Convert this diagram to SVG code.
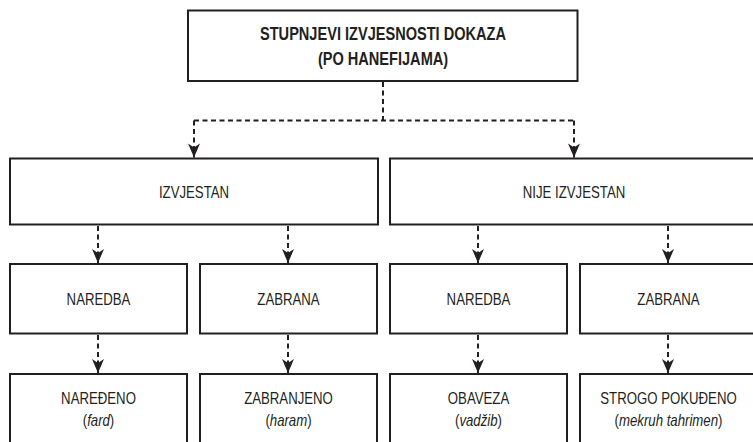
<svg xmlns="http://www.w3.org/2000/svg" width="753" height="442" viewBox="0 0 753 442">
<style>
.box{fill:#fff;stroke:#231f20;stroke-width:2}
.t{font-family:"Liberation Sans",Arial,sans-serif;font-size:16.5px;fill:#231f20;text-anchor:middle}
.tb{font-family:"Liberation Sans",Arial,sans-serif;font-size:18px;font-weight:bold;fill:#231f20;text-anchor:middle}
.i{font-style:italic}
.c{fill:none;stroke:#231f20;stroke-width:2;stroke-dasharray:5 3.5}
.a{fill:none;stroke:#231f20;stroke-width:2;stroke-dasharray:5 3.5;marker-end:url(#ah)}
</style>
<defs>
<marker id="ah" markerUnits="userSpaceOnUse" markerWidth="16" markerHeight="14" viewBox="-15 -7 16 14" refX="0" refY="0" orient="auto">
<path d="M0,0 L-14,-6 L-10,0 L-14,6 Z" fill="#231f20"/>
</marker>
</defs>
<rect width="753" height="442" fill="#fff"/>
<g id="connectors">
<path class="c" d="M383,82 V120.5"/>
<path class="c" d="M194,120.5 H574"/>
<path class="a" d="M194,120.5 V157.5"/>
<path class="a" d="M574,120.5 V157.5"/>
<path class="a" d="M98,226 V263"/>
<path class="a" d="M288,226 V263"/>
<path class="a" d="M478,226 V263"/>
<path class="a" d="M668,226 V263"/>
<path class="a" d="M98,335 V373"/>
<path class="a" d="M288,335 V373"/>
<path class="a" d="M478,335 V373"/>
<path class="a" d="M668,335 V373"/>
</g>
<g id="root">
<rect class="box" x="188" y="10.5" width="389.5" height="70.5"/>
<text class="tb" transform="translate(383,40) scale(0.81,1)">STUPNJEVI IZVJESNOSTI DOKAZA</text>
<text class="tb" transform="translate(383,65) scale(0.81,1)">(PO HANEFIJAMA)</text>
</g>
<g id="izvjestan">
<rect class="box" x="10" y="158.5" width="368" height="66"/>
<text class="t" transform="translate(194,197.5) scale(0.8,1)">IZVJESTAN</text>
</g>
<g id="nije-izvjestan">
<rect class="box" x="390" y="158.5" width="370" height="66"/>
<text class="t" transform="translate(574,197.5) scale(0.8,1)">NIJE IZVJESTAN</text>
</g>
<g id="naredba1">
<rect class="box" x="10" y="264" width="177" height="69.5"/>
<text class="t" transform="translate(98.5,304.5) scale(0.8,1)">NAREDBA</text>
</g>
<g id="zabrana1">
<rect class="box" x="200" y="264" width="177" height="69.5"/>
<text class="t" transform="translate(288.5,304.5) scale(0.8,1)">ZABRANA</text>
</g>
<g id="naredba2">
<rect class="box" x="390" y="264" width="177" height="69.5"/>
<text class="t" transform="translate(478.5,304.5) scale(0.8,1)">NAREDBA</text>
</g>
<g id="zabrana2">
<rect class="box" x="580" y="264" width="180" height="69.5"/>
<text class="t" transform="translate(668.5,304.5) scale(0.8,1)">ZABRANA</text>
</g>
<g id="naredjeno">
<rect class="box" x="10" y="374" width="177" height="80"/>
<text class="t" transform="translate(98.5,404) scale(0.8,1)">NAREĐENO</text>
<text class="t" transform="translate(98.5,426) scale(0.8,1)">(<tspan class="i">fard</tspan>)</text>
</g>
<g id="zabranjeno">
<rect class="box" x="200" y="374" width="177" height="80"/>
<text class="t" transform="translate(288.5,404) scale(0.8,1)">ZABRANJENO</text>
<text class="t" transform="translate(288.5,426) scale(0.8,1)">(<tspan class="i">haram</tspan>)</text>
</g>
<g id="obaveza">
<rect class="box" x="390" y="374" width="177" height="80"/>
<text class="t" transform="translate(478.5,404) scale(0.8,1)">OBAVEZA</text>
<text class="t" transform="translate(478.5,426) scale(0.8,1)">(<tspan class="i">vadžib</tspan>)</text>
</g>
<g id="strogo-pokudeno">
<rect class="box" x="580" y="374" width="180" height="80"/>
<text class="t" transform="translate(668.5,404) scale(0.8,1)">STROGO POKUĐENO</text>
<text class="t" transform="translate(668.5,426) scale(0.8,1)">(<tspan class="i">mekruh tahrimen</tspan>)</text>
</g>
</svg>
